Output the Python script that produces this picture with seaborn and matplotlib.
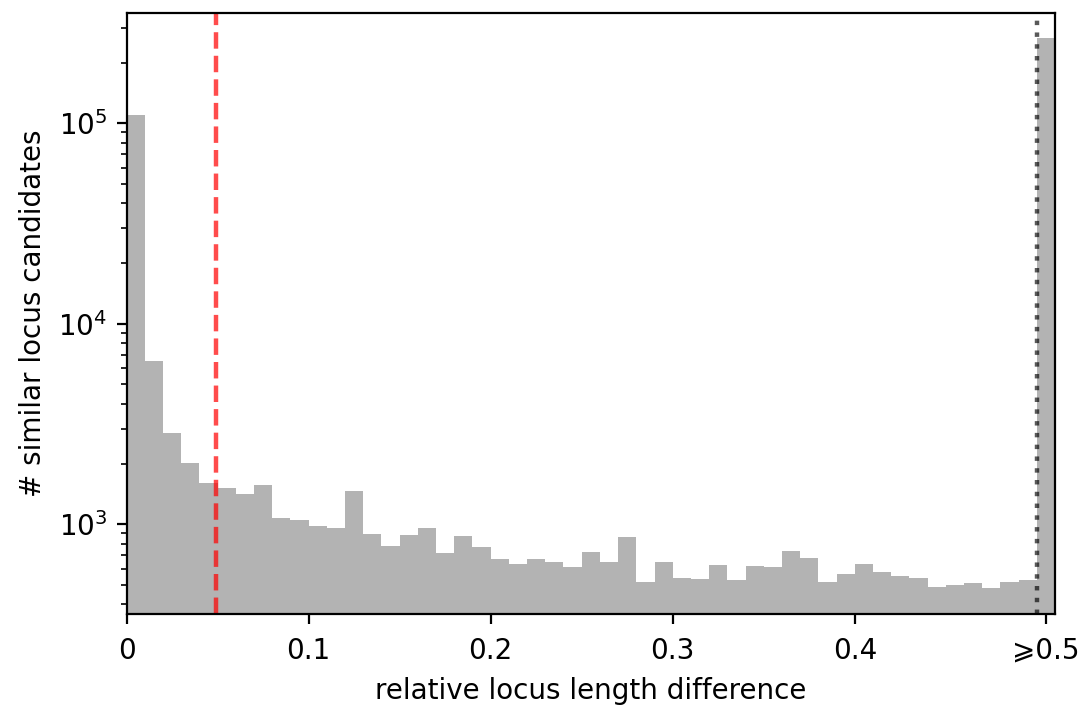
import numpy as np
import pandas as pd
import matplotlib
matplotlib.use("Agg")
import matplotlib.pyplot as plt
import seaborn as sns

# bin width 0.01 from 0 to 0.5, plus one overflow bin (>=0.5)
bin_width = 0.01
bin_range = (0.0, 0.51)
counts = [110400, 6500, 2864, 2015, 1601, 1522, 1411, 1570, 1079, 1051,
          984, 962, 1471, 892, 782, 884, 958, 717, 874, 773,
          671, 634, 673, 646, 614, 725, 648, 864, 517, 648,
          540, 535, 625, 527, 619, 614, 736, 677, 514, 565,
          632, 576, 552, 540, 485, 500, 508, 483, 515, 527,
          267000]
tick_values = [0, 0.1, 0.2, 0.3, 0.4, 0.505]
tick_labels = ["0", "0.1", "0.2", "0.3", "0.4", "\u2a7e0.5"]
threshold = 0.049
cutoff = 0.5

centers = bin_range[0] + bin_width * (np.arange(len(counts)) + 0.5)
df = pd.DataFrame({"diff": centers, "n": counts})

fig = plt.figure(figsize=(1085 / 200, 709 / 200), dpi=200)
ax = fig.add_axes([0.1166, 0.1333, 0.9724 - 0.1166, 0.9817 - 0.1333])

sns.histplot(data=df, x="diff", weights="n", binwidth=bin_width,
             binrange=bin_range, ax=ax,
             color="#b3b3b3", alpha=1.0, linewidth=0, edgecolor="none")
ax.set_yscale("log")
ax.axvline(threshold, color="red", alpha=0.7, ls="--", lw=1.6)
ax.axvline(cutoff, color="black", alpha=0.65, ls=":", lw=1.6)

ax.set_xlim(0, 0.51)
ax.set_ylim(355, 355000)
ax.set_xticks(tick_values)
ax.set_xticklabels(tick_labels)
ax.tick_params(axis="x", pad=4.5)
ax.set_xlabel("relative locus length difference", labelpad=4.5)
ax.set_ylabel("# similar locus candidates")

fig.savefig("out.png", dpi=200)
